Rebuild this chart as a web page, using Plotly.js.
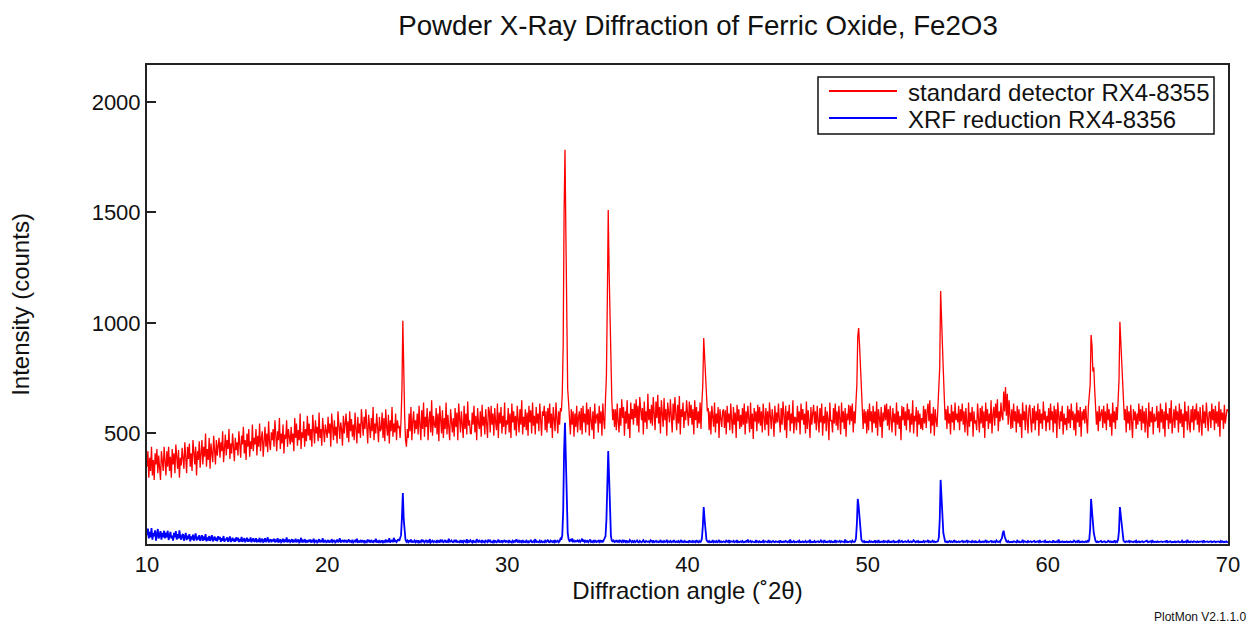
<!DOCTYPE html>
<html>
<head>
<meta charset="utf-8">
<script src="https://cdn.plot.ly/plotly-3.0.1.min.js"></script>
<style>html,body{margin:0;padding:0;background:#fff;}#chart{width:1250px;height:623px;}</style>
</head>
<body>
<div id="chart"></div>
<script>
// Diffraction angle grid (degrees 2-theta), 0.05 deg steps from 10 to 70
const angleStart = 10;
const angleStep = 0.05;

// standard detector RX4-8355 (counts), one row per degree
const standardCounts = [
350,420,300,390,330,440,310,380,290,410,360,430,320,400,345,290,420,370,330,440,
380,310,420,350,440,330,395,300,430,360,410,320,450,370,340,425,300,390,355,435,
400,340,460,370,320,440,385,455,350,410,330,470,390,360,440,310,420,380,465,345,
410,470,360,440,395,500,350,430,380,480,340,455,410,370,490,420,360,470,400,445,
480,390,460,420,510,370,450,495,400,470,430,520,385,455,410,500,440,375,480,425,
460,400,510,430,390,490,450,530,410,470,380,500,440,520,395,465,430,540,420,480,
450,520,400,490,440,545,420,480,510,395,470,530,440,500,415,555,460,425,505,470,
520,440,560,480,420,510,470,570,430,500,455,540,410,495,475,560,440,520,485,450,
530,460,500,420,570,480,545,445,515,470,590,430,505,480,555,440,520,465,580,490,
545,470,520,440,585,490,455,560,500,530,465,595,480,520,445,570,500,460,540,510,
480,575,500,545,440,590,510,470,560,490,530,455,600,505,475,550,520,445,580,500,
540,590,480,555,460,600,510,565,485,540,470,595,520,455,575,500,545,480,610,515,
490,575,520,610,495,455,585,530,480,570,510,620,470,545,500,590,525,460,575,510,
520,595,480,570,465,610,530,490,585,455,560,510,620,485,545,505,590,470,560,525,
535,480,560,700,1010,760,580,470,440,520,480,590,510,620,470,555,600,500,560,520,
590,495,625,540,470,605,520,640,485,575,530,615,470,560,600,505,650,490,580,540,
525,615,495,590,465,625,540,500,605,480,570,520,640,495,585,535,470,610,550,505,
570,485,615,530,595,470,635,540,505,600,550,480,625,520,590,495,645,535,560,500,
500,595,540,625,505,580,470,615,545,520,600,485,630,535,575,495,610,550,480,620,
600,505,625,540,590,490,615,550,515,635,480,595,545,620,500,580,530,640,495,560,
540,615,505,590,480,635,550,600,515,580,490,625,560,505,610,540,650,495,575,530,
610,515,595,490,625,550,605,500,640,535,580,495,620,545,590,510,635,560,490,600,
580,625,515,600,505,615,545,635,525,590,480,620,555,510,640,565,500,600,540,615,
600,680,900,1500,1783,1400,900,700,640,560,495,610,540,600,485,590,530,625,505,575,
600,515,615,495,625,550,590,505,640,540,610,490,620,560,515,600,475,635,545,580,
590,505,625,545,600,490,635,560,520,660,760,1100,1511,1230,1000,760,650,560,610,530,
610,515,635,555,505,615,535,655,570,620,490,600,545,650,520,590,480,640,565,610,
540,635,570,655,535,625,505,665,580,560,615,495,645,550,600,520,680,560,610,545,
630,535,665,580,515,645,570,675,545,620,500,650,590,530,660,560,610,490,640,585,
550,655,580,505,635,560,665,590,515,630,545,670,495,610,575,640,525,600,560,650,
580,535,645,570,630,540,610,495,650,560,620,525,600,545,640,520,640,720,932,860,
800,680,600,615,515,600,495,625,560,530,640,505,590,545,620,480,610,555,530,600,
610,525,605,495,625,550,590,515,635,560,500,620,540,595,480,630,555,610,520,585,
530,615,540,635,495,600,545,625,560,505,640,520,590,475,615,555,600,510,630,545,
620,535,600,505,635,560,515,615,540,600,490,640,550,520,610,570,485,625,545,595,
550,635,560,505,615,540,645,570,515,625,480,600,560,630,510,590,545,650,500,575,
570,515,625,550,600,495,635,560,610,540,590,500,645,520,605,555,480,620,540,590,
630,545,600,515,625,560,505,615,550,635,490,580,545,620,510,600,565,470,640,555,
560,505,615,545,635,535,600,515,625,570,495,640,550,600,520,615,485,590,560,630,
540,625,555,635,505,600,545,640,720,940,977,900,780,680,590,520,610,545,600,500,
610,515,635,555,600,505,625,545,600,525,645,490,610,560,530,620,480,595,555,630,
560,635,535,610,515,625,570,505,615,550,590,490,640,540,600,520,580,470,625,560,
620,535,600,515,635,560,610,505,590,540,650,500,580,555,620,485,605,540,590,520,
570,515,625,545,610,525,600,635,555,650,500,590,535,620,490,610,560,530,620,700,
800,1145,960,900,780,660,560,610,520,625,545,590,495,630,550,600,515,640,560,590,
550,625,515,610,555,635,540,600,505,615,570,490,640,530,595,555,620,485,600,545,
560,515,635,570,505,615,545,625,525,600,480,640,555,610,520,590,545,650,500,585,
620,535,635,570,655,510,600,555,640,580,560,690,600,710,580,680,540,650,590,520,
610,525,635,555,600,505,625,545,610,530,590,480,640,560,600,515,630,550,500,610,
630,555,505,615,545,625,515,600,560,635,490,610,545,590,520,645,560,600,510,580,
550,615,515,635,560,600,505,625,545,610,480,640,570,520,600,555,625,495,590,540,
570,515,625,545,610,525,635,560,600,515,590,490,640,550,605,530,620,485,600,560,
610,545,625,560,500,620,660,720,946,900,780,800,700,620,540,600,510,625,555,590,
610,525,625,545,600,515,635,560,610,530,590,490,640,550,600,520,620,560,660,740,
1005,900,860,760,640,560,610,505,625,545,600,515,630,550,480,610,560,600,520,590,
540,635,555,610,515,625,545,600,505,615,560,480,640,530,600,550,620,495,590,555,
560,625,525,600,505,635,550,610,520,600,485,640,560,590,520,615,545,650,500,580,
610,525,625,560,600,505,635,545,610,530,590,480,645,555,600,515,625,545,505,610,
550,625,515,610,560,635,540,600,505,620,570,490,630,545,600,525,640,560,510,595,
600,525,635,560,610,515,625,545,600,530,645,485,610,560,595,520,630,545,580,610,
600
];

// XRF reduction RX4-8356 (counts), one row per degree
const xrfCounts = [
40,70,25,55,30,72,20,50,35,62,15,45,68,25,38,58,20,50,30,60,
25,52,30,60,18,45,55,25,38,15,50,30,58,20,44,25,62,30,20,40,
45,15,32,50,18,38,22,45,12,34,20,42,15,30,48,16,33,20,40,14,
25,40,14,34,18,45,12,30,16,36,14,26,40,12,22,34,15,28,12,35,
20,32,10,26,15,36,10,24,18,30,10,22,34,9,18,28,12,24,10,30,
16,28,9,22,12,32,10,18,26,8,15,28,10,22,12,30,8,18,26,10,
14,26,8,20,10,28,8,16,24,9,12,26,9,18,30,8,14,22,8,20,
12,24,8,16,10,26,7,14,22,8,12,24,8,16,10,30,8,14,20,8,
12,22,7,15,9,24,8,14,20,7,10,28,8,15,8,22,10,14,7,18,
10,20,7,14,9,24,8,12,18,7,10,22,8,14,9,26,7,12,18,8,
10,18,7,13,8,22,9,12,18,7,10,20,8,13,26,7,12,18,8,15,
9,18,7,12,20,8,13,9,19,7,10,16,8,24,9,12,7,18,10,14,
9,16,7,12,8,20,9,14,7,18,10,8,16,9,24,7,12,9,18,8,
10,16,7,12,9,20,8,14,9,26,7,12,18,8,28,10,15,9,14,22,
14,25,40,120,231,110,35,18,10,16,8,14,9,20,7,12,10,16,8,14,
9,16,7,12,8,20,9,14,7,11,18,8,13,9,22,7,11,15,8,13,
10,8,17,9,13,7,20,9,15,8,11,18,7,12,9,24,8,11,16,9,
8,15,9,19,7,12,10,8,17,9,13,7,15,10,8,21,9,13,7,17,
12,7,17,9,11,8,22,9,7,15,10,8,18,9,12,7,15,10,8,20,
9,15,8,11,7,18,9,13,8,11,20,7,12,9,16,8,11,18,7,13,
12,8,17,9,11,7,15,9,13,8,21,10,7,15,9,13,8,18,9,11,
9,15,8,13,7,11,19,9,8,13,9,22,7,12,10,8,15,9,13,8,
11,8,15,9,13,19,9,8,15,10,9,13,8,18,9,11,15,8,12,24,
20,40,150,420,548,380,150,50,22,14,18,12,25,11,15,10,14,12,16,11,
16,9,14,24,11,16,9,15,10,14,8,15,20,9,12,8,17,10,14,9,
12,15,9,17,10,14,8,18,22,35,110,330,421,300,120,35,15,12,16,9,
11,17,8,14,9,16,12,8,19,10,14,9,16,8,12,9,18,10,8,14,
9,14,8,12,16,9,7,14,10,8,12,17,9,8,14,10,9,12,8,17,
12,9,16,8,10,14,9,12,8,10,18,9,12,8,14,9,10,19,8,12,
9,14,8,12,9,17,10,8,12,9,14,8,10,18,9,12,8,14,9,10,
10,8,16,9,12,8,14,9,12,8,17,10,8,14,9,12,25,80,167,110,
50,20,12,9,14,8,10,9,17,8,12,9,14,8,10,18,9,12,8,10,
12,9,8,15,10,9,18,8,12,9,10,14,8,12,9,17,8,10,9,12,
9,14,8,10,9,13,8,20,9,10,14,8,12,9,10,8,17,9,12,8,
12,8,10,9,15,8,12,9,10,8,18,9,12,8,10,14,9,8,12,9,
9,12,8,16,9,10,8,12,9,14,10,8,12,9,20,8,10,9,14,8,
10,8,12,9,15,8,10,9,12,8,9,14,8,10,12,9,19,8,10,9,
9,14,8,10,9,12,8,10,16,9,12,8,18,9,10,8,12,9,14,8,
12,8,10,9,17,8,12,9,10,14,8,12,9,10,8,20,9,12,8,10,
9,12,8,15,10,9,12,25,90,204,170,120,50,20,12,9,14,8,10,9,
10,8,14,9,12,8,10,9,16,8,12,9,18,8,10,9,12,8,14,9,
12,9,8,17,9,10,8,12,9,14,8,10,9,12,8,19,9,10,14,8,
9,8,12,9,10,15,8,9,12,8,10,17,9,8,12,9,14,8,10,9,
10,9,14,8,12,9,10,18,9,12,8,10,15,9,12,8,10,9,12,30,
110,290,230,130,50,20,10,9,12,8,10,14,9,12,8,10,17,9,12,8,
9,12,8,10,9,14,8,12,9,10,17,8,12,9,10,8,14,9,12,8,
12,8,10,9,15,8,10,9,12,8,10,18,9,12,8,10,9,14,8,12,
9,12,8,16,10,9,12,8,20,25,50,60,35,20,12,9,14,8,10,9,
10,8,12,9,10,8,15,9,12,8,10,9,19,8,12,9,10,8,14,9,
9,12,8,10,9,14,8,10,9,12,8,18,9,10,8,12,9,15,8,10,
10,8,12,9,10,8,16,9,10,8,12,9,20,8,10,9,12,8,10,9,
9,12,8,10,9,12,8,10,9,15,10,8,12,9,17,8,10,9,12,8,
10,8,12,9,14,8,20,70,204,120,100,50,20,12,9,12,8,10,9,14,
8,10,9,12,8,10,9,15,10,9,12,8,10,9,16,8,12,9,20,60,
167,130,90,40,15,10,8,12,9,10,14,8,12,9,10,8,12,9,15,8,
9,12,8,10,9,12,8,10,9,12,15,8,10,9,12,8,18,9,10,8,
10,8,12,9,10,8,12,9,10,8,12,9,16,8,10,9,12,8,10,9,
9,12,8,10,9,12,8,10,9,15,8,10,9,12,8,19,9,10,8,12,
10,8,12,9,10,8,12,9,10,8,9,12,8,16,9,10,8,12,9,10,
9,12,8,10,9,12,8,10,9,12,10,8,14,9,12,8,10,9,12,8,
10
];

const seriesNames = ['standard detector RX4-8355', 'XRF reduction RX4-8356'];
const yTickVals = [500, 1000, 1500, 2000];
const xTickVals = [10, 20, 30, 40, 50, 60, 70];

function anglesFor(n) {
  const a = [];
  for (let i = 0; i < n; i++) a.push(+(angleStart + i * angleStep).toFixed(2));
  return a;
}

const FONT = 'Liberation Sans, Arial, Helvetica, sans-serif';

const traces = [
  {x: anglesFor(standardCounts.length), y: standardCounts, type: 'scatter', mode: 'lines',
   name: seriesNames[0], line: {color: '#ff0000', width: 1.3}, showlegend: false},
  {x: anglesFor(xrfCounts.length), y: xrfCounts, type: 'scatter', mode: 'lines',
   name: seriesNames[1], line: {color: '#0000ff', width: 1.8}, showlegend: false}
];

// plot area geometry helpers (paper coordinates)
const PL = 147, PR = 1228, PT = 65, PB = 544;
const px = v => (v - PL) / (PR - PL);
const py = v => (PB - v) / (PB - PT);

const layout = {
  width: 1250, height: 623,
  margin: {l: PL, r: 1250 - PR, t: PT, b: 623 - PB, pad: 0},
  paper_bgcolor: '#fff', plot_bgcolor: '#fff',
  font: {family: FONT, color: '#111', size: 22},
  title: {text: 'Powder X-Ray Diffraction of Ferric Oxide, Fe2O3', font: {size: 27.7, family: FONT, color: '#111'},
          x: 698 / 1250, xref: 'container', xanchor: 'center', y: 1 - 25 / 623, yref: 'container', yanchor: 'middle'},
  xaxis: {range: [10, 70], tickvals: xTickVals, ticks: '', showgrid: false, zeroline: false,
          showline: true, mirror: true, linecolor: '#222', linewidth: 2, layer: 'below traces',
          tickfont: {size: 22, family: FONT, color: '#111'},
          title: {text: 'Diffraction angle (˚2θ)', font: {size: 24, family: FONT, color: '#111'}, standoff: 6}},
  yaxis: {range: [0, 2167], tickvals: yTickVals, ticks: 'inside', ticklen: 9, tickwidth: 2, tickcolor: '#222',
          showgrid: false, zeroline: false, showline: true, mirror: true, linecolor: '#222', linewidth: 2,
          layer: 'below traces', tickfont: {size: 22, family: FONT, color: '#111'},
          title: {text: 'Intensity (counts)', font: {size: 24, family: FONT, color: '#111'}, standoff: 55}},
  shapes: [
    {type: 'rect', xref: 'paper', yref: 'paper', x0: px(818), x1: px(1214), y0: py(134), y1: py(77),
     line: {color: '#111', width: 1.5}, fillcolor: '#fff'},
    {type: 'line', xref: 'paper', yref: 'paper', x0: px(829), x1: px(897), y0: py(91), y1: py(91),
     line: {color: '#ff0000', width: 2}},
    {type: 'line', xref: 'paper', yref: 'paper', x0: px(829), x1: px(897), y0: py(118), y1: py(118),
     line: {color: '#0000ff', width: 2}}
  ],
  annotations: [
    {text: seriesNames[0], xref: 'paper', yref: 'paper', x: px(906), y: py(92), xanchor: 'left', yanchor: 'middle',
     showarrow: false, font: {size: 24, family: FONT, color: '#111'}},
    {text: seriesNames[1], xref: 'paper', yref: 'paper', x: px(906), y: py(119), xanchor: 'left', yanchor: 'middle',
     showarrow: false, font: {size: 24, family: FONT, color: '#111'}},
    {text: 'PlotMon V2.1.1.0', xref: 'paper', yref: 'paper', x: px(1248), y: py(617), xanchor: 'right', yanchor: 'middle',
     showarrow: false, font: {size: 12, family: FONT, color: '#111'}}
  ]
};

Plotly.newPlot('chart', traces, layout, {displayModeBar: false, staticPlot: true});
</script>
</body>
</html>
